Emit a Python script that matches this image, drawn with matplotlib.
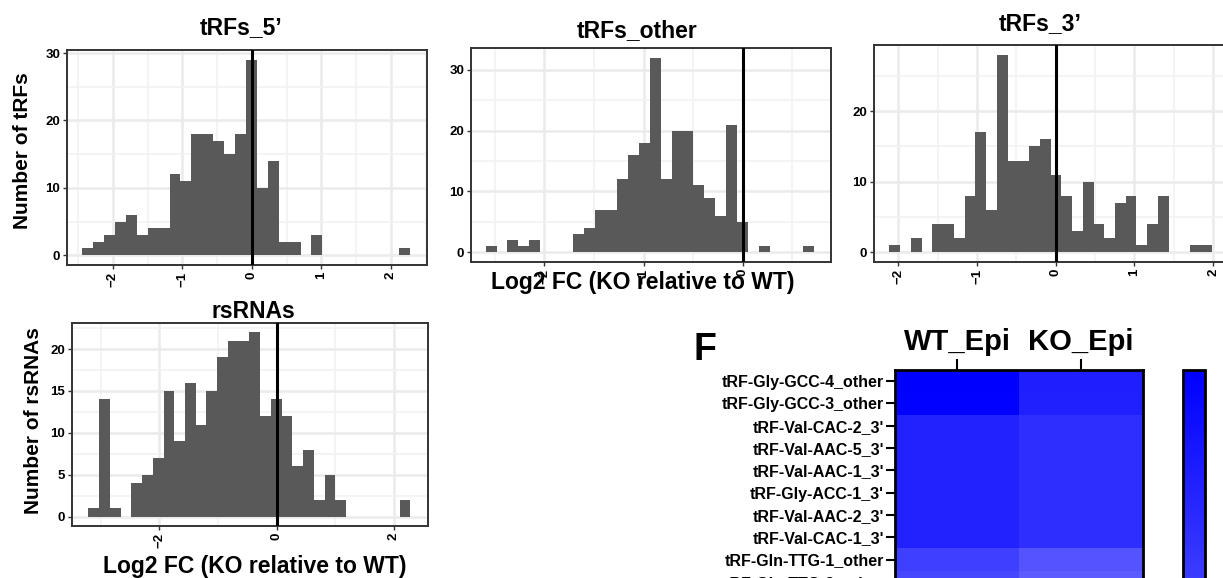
import numpy as np
import matplotlib
matplotlib.use("Agg")
import matplotlib.pyplot as plt
from matplotlib.colors import LinearSegmentedColormap

plt.rcParams['font.family'] = ['Liberation Sans', 'DejaVu Sans']
plt.rcParams['font.weight'] = 'bold'

W, H = 1223, 578

# histogram counts (30 bins), first bin edge and bin width (log2 FC)
trf5_counts = [1, 2, 3, 5, 6, 3, 4, 4, 12, 11, 18, 18, 17, 15, 18, 29, 10, 14,
               2, 2, 0, 3, 0, 0, 0, 0, 0, 0, 0, 1]
trf5_start, trf5_bw = -2.44, 0.157

trfo_counts = [1, 0, 2, 1, 2, 0, 0, 0, 3, 4, 7, 7, 12, 16, 18, 32, 12, 20,
               20, 11, 9, 6, 21, 5, 0, 1, 0, 0, 0, 1]
trfo_start, trfo_bw = -2.593, 0.1103

trf3_counts = [1, 0, 2, 0, 4, 4, 2, 8, 17, 6, 28, 13, 13, 15, 16, 11, 8, 3,
               10, 4, 2, 7, 8, 1, 4, 8, 0, 0, 1, 1]
trf3_start, trf3_bw = -2.113, 0.1365

rs_counts = [1, 14, 1, 0, 4, 5, 7, 15, 9, 16, 11, 15, 19, 21, 21, 22, 12, 14,
             12, 6, 8, 2, 5, 2, 0, 0, 0, 0, 0, 2]
rs_start, rs_bw = -3.21, 0.183

# heatmap (scaled expression, 1 = full blue)
hm_rows = ["tRF-Gly-GCC-4_other", "tRF-Gly-GCC-3_other", "tRF-Val-CAC-2_3'",
           "tRF-Val-AAC-5_3'", "tRF-Val-AAC-1_3'", "tRF-Gly-ACC-1_3'",
           "tRF-Val-AAC-2_3'", "tRF-Val-CAC-1_3'", "tRF-Gln-TTG-1_other",
           "tRF-Gln-TTG-2_other"]
hm_cols = ["WT_Epi", "KO_Epi"]
wt_epi = [1.0, 0.99, 0.86, 0.86, 0.86, 0.86, 0.86, 0.86, 0.75, 0.72]
ko_epi = [0.88, 0.87, 0.82, 0.82, 0.82, 0.82, 0.82, 0.82, 0.67, 0.64]


def rect(x0, y0, x1, y1):
    # pixel box -> figure fraction
    return [x0 / W, 1 - y1 / H, (x1 - x0) / W, (y1 - y0) / H]


def hist_panel(box, counts, start, bw, xlim, xticks, ystep):
    ax = fig.add_axes(rect(*box))
    counts = np.array(counts)
    edges = start + bw * np.arange(len(counts))
    ax.bar(edges, counts, width=bw, align='edge', color='#595959',
           linewidth=0, zorder=2)
    ax.axvline(0, color='black', lw=2.2, zorder=3)
    top = counts.max()
    ax.set_xticks(xticks)
    ax.set_xticklabels([f"{t:g}".replace('-', '\u2212') for t in xticks],
                       rotation=90)
    step = xticks[1] - xticks[0]
    ax.set_xticks(np.arange(xticks[0] - step * 1.5, xlim[1], step), minor=True)
    yt = np.arange(0, 1.05 * top, ystep)
    ax.set_yticks(yt)
    ax.set_yticks(yt + ystep / 2, minor=True)
    ax.set_xlim(xlim)
    ax.set_ylim(-0.05 * top, 1.05 * top)
    ax.grid(which='major', color='#EBEBEB', lw=1.8, zorder=0)
    ax.grid(which='minor', color='#F2F2F2', lw=1.2, zorder=0)
    ax.set_axisbelow(True)
    ax.tick_params(which='major', length=3, width=1, color='#333333',
                   labelsize=9.5, pad=2)
    ax.tick_params(which='minor', length=0)
    for s in ax.spines.values():
        s.set_color('#333333')
        s.set_linewidth(1.4)
    return ax


fig = plt.figure(figsize=(W / 100, H / 100), dpi=100)

hist_panel((67, 50, 427, 265), trf5_counts, trf5_start, trf5_bw,
           (-2.66, 2.52), [-2, -1, 0, 1, 2], 10)
hist_panel((471, 48, 831, 262), trfo_counts, trfo_start, trfo_bw,
           (-2.74, 0.89), [-2, -1, 0], 10)
hist_panel((874, 45, 1228, 262), trf3_counts, trf3_start, trf3_bw,
           (-2.31, 2.19), [-2, -1, 0, 1, 2], 10)
hist_panel((72, 323, 428, 526), rs_counts, rs_start, rs_bw,
           (-3.49, 2.58), [-2, 0, 2], 5)

fs_t = 16.5
fs_lab = 15
fig.text(241 / W, 1 - 34 / H, "tRFs_5\u2019", ha='center', va='baseline', fontsize=fs_t)
fig.text(637 / W, 1 - 37 / H, "tRFs_other", ha='center', va='baseline', fontsize=fs_t)
fig.text(1040 / W, 1 - 30 / H, "tRFs_3\u2019", ha='center', va='baseline', fontsize=fs_t)
fig.text(253 / W, 1 - 318 / H, "rsRNAs", ha='center', va='baseline', fontsize=fs_t)
fig.text(23 / W, 1 - 151 / H, "Number of tRFs", rotation=90,
         ha='center', va='center', fontsize=fs_lab)
fig.text(34 / W, 1 - 421 / H, "Number of rsRNAs", rotation=90,
         ha='center', va='center', fontsize=fs_lab)
fig.text(643 / W, 1 - 289 / H, "Log2 FC (KO relative to WT)",
         ha='center', va='baseline', fontsize=16.5)
fig.text(255 / W, 1 - 573 / H, "Log2 FC (KO relative to WT)",
         ha='center', va='baseline', fontsize=16.5)

# heatmap F
cmap = LinearSegmentedColormap.from_list('wb', ['#FFFFFF', '#0000FF'])
hm = np.column_stack([wt_epi, ko_epi])
n = len(hm_rows)
axh = fig.add_axes(rect(895, 370, 1143, 370 + 22.3 * n))
im = axh.imshow(hm, cmap=cmap, vmin=0, vmax=1, aspect='auto',
                interpolation='nearest')
axh.set_xticks(range(len(hm_cols)))
axh.set_xticklabels(hm_cols, fontsize=21)
axh.xaxis.tick_top()
axh.tick_params(axis='x', length=8, width=1.5, pad=2)
axh.set_yticks(range(n))
axh.set_yticklabels(hm_rows, fontsize=11.5)
axh.tick_params(axis='y', length=6.5, width=1.5, pad=1.5)
for s in axh.spines.values():
    s.set_linewidth(2)
    s.set_color('black')

cax = fig.add_axes(rect(1183, 370, 1205, 1254))
cb = fig.colorbar(im, cax=cax)
cb.set_ticks([])
cb.outline.set_linewidth(2)

fig.text(693 / W, 1 - 360 / H, "F", ha='left', va='baseline', fontsize=27)

fig.savefig("out.png", dpi=100)
